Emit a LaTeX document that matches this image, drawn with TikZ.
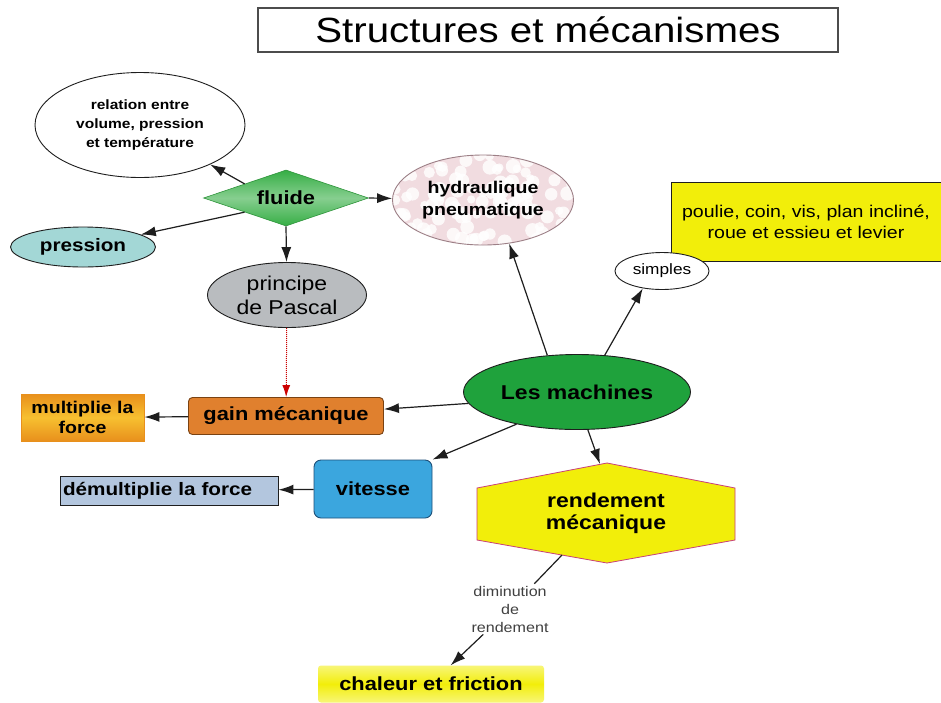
\documentclass[tikz,border=0pt]{standalone}
\usepackage{fontspec}
\setmainfont[FakeStretch=1.15]{Liberation Sans}
\usepackage{tikz}
\usetikzlibrary{arrows.meta, positioning, calc, shapes.geometric}
\definecolor{vertfluide}{HTML}{36AE45}
\definecolor{vertmachine}{HTML}{1FA23C}
\definecolor{bleupression}{HTML}{A3D7D6}
\definecolor{grispascal}{HTML}{B9BCBF}
\definecolor{roseclair}{HTML}{F1DCE0}
\definecolor{rosebord}{HTML}{9C7F86}
\definecolor{jaunevif}{HTML}{F2EE0A}
\definecolor{orangegain}{HTML}{E0802E}
\definecolor{orangebord}{HTML}{7A4212}
\definecolor{orangeforce}{HTML}{E8901C}
\definecolor{orangeclair}{HTML}{F7C030}
\definecolor{bleuvitesse}{HTML}{3BA6DE}
\definecolor{bleubord}{HTML}{1D4F78}
\definecolor{bleugris}{HTML}{B3C6DE}
\definecolor{magentabord}{HTML}{C8407A}
\definecolor{encre}{HTML}{1E1E1E}

\begin{document}
\begin{tikzpicture}[x=1pt, y=-1pt,
  fleche/.style={-{Latex[length=15pt,width=10pt]}, line width=1.2pt, draw=encre},
  bulle/.style={ellipse, draw=encre, line width=0.9pt, inner sep=0pt, align=center},
  boite/.style={rectangle, draw=encre, line width=0.9pt, inner sep=0pt, align=center}]
  % page in pixels of the reference: (0,0) top left, y going down
  \useasboundingbox (0,0) rectangle (941,702);
  \fill[white] (0,0) rectangle (941,702);
  \pgfmathsetseed{7}

  \node[draw=black!70, line width=1.3pt, minimum width=580pt, minimum height=44pt, inner sep=0pt,
        font=\fontsize{35}{38}\selectfont] (titre) at (548,30) {Structures et mécanismes};

  % left part: fluids
  \node[bulle, fill=white, minimum width=210pt, minimum height=105pt,
        font=\bfseries\fontsize{13.5}{19}\selectfont] (relation) at (140,125) {relation entre\\volume, pression\\et température};
  \node[diamond, aspect=3, draw=vertfluide!85!black, line width=0.6pt, top color=vertfluide, bottom color=vertfluide,
        middle color=vertfluide!60!white, minimum width=165pt, minimum height=56pt, inner sep=0pt,
        font=\bfseries\fontsize{19}{22}\selectfont] (fluide) at (286,198) {fluide};
  \node[bulle, fill=bleupression, minimum width=145pt, minimum height=40pt,
        font=\bfseries\fontsize{18}{20}\selectfont] (pression) at (83,247) {pression};
  \node[bulle, fill=grispascal, minimum width=159pt, minimum height=65pt,
        font=\fontsize{20}{24}\selectfont] (pascal) at (287,295) {principe\\de Pascal};
  \node[bulle, draw=rosebord, fill=roseclair, minimum width=181pt, minimum height=90pt,
        font=\bfseries\fontsize{17}{22}\selectfont,
        path picture={\foreach \k in {1,...,140}{
          \pgfmathsetmacro{\dx}{95*rand}\pgfmathsetmacro{\dy}{50*rand}\pgfmathsetmacro{\ray}{4+3.5*rnd}
          \fill[white, opacity=.8] ([xshift=\dx pt, yshift=\dy pt]path picture bounding box.center) circle (\ray pt);}}]
        (hydro) at (483,200) {hydraulique\\pneumatique};

  % right part
  \node[boite, fill=jaunevif, minimum width=270pt, minimum height=79pt,
        font=\fontsize{17}{21}\selectfont] (poulie) at (806,222) {poulie, coin, vis, plan incliné,\\roue et essieu et levier};
  \node[bulle, fill=white, minimum width=94pt, minimum height=37pt,
        font=\fontsize{15}{18}\selectfont] (simples) at (662,271) {simples};
  \node[bulle, fill=vertmachine, minimum width=227pt, minimum height=75pt,
        font=\bfseries\fontsize{20}{24}\selectfont] (machines) at (577,392) {Les machines};

  \node[boite, rounded corners=4pt, draw=orangebord, fill=orangegain, minimum width=195pt, minimum height=37pt,
        font=\bfseries\fontsize{19}{22}\selectfont] (gain) at (286,416) {gain mécanique};
  \node[boite, draw=orangeforce, top color=orangeforce, bottom color=orangeforce, middle color=orangeclair,
        minimum width=123pt, minimum height=47pt,
        font=\bfseries\fontsize{17}{20}\selectfont] (multi) at (82.5,417.5) {multiplie la\\force};
  \node[boite, rounded corners=7pt, draw=bleubord, fill=bleuvitesse, minimum width=118pt, minimum height=58pt,
        font=\bfseries\fontsize{19}{22}\selectfont] (vitesse) at (373,489) {vitesse};
  \node[boite, fill=bleugris, minimum width=218pt, minimum height=29pt, text width=212pt, align=left,
        font=\bfseries\fontsize{18}{20}\selectfont] (demulti) at (169,490.5) {démultiplie la force};

  \fill[jaunevif, draw=magentabord, line width=0.8pt]
    (607,463) -- (735,488) -- (735,540) -- (607,563) -- (477,540) -- (477,488) -- cycle;
  \node[align=center, font=\bfseries\fontsize{20}{22}\selectfont] (rend) at (606,513) {rendement\\mécanique};
  \coordinate (rendhaut) at (600,464);
  \coordinate (rendbas) at (562,555);

  \node[align=center, inner sep=2pt, text=encre!85, font=\fontsize{14}{18}\selectfont] (dim) at (510,609) {diminution\\de\\rendement};
  \node[rectangle, rounded corners=3pt, top color=jaunevif!55!white, bottom color=jaunevif!55!white,
        middle color=jaunevif, minimum width=226pt, minimum height=37pt,
        font=\bfseries\fontsize{19}{22}\selectfont] (chaleur) at (431,684) {chaleur et friction};

  % connectors
  \draw[fleche] (fluide.north west) -- (relation);
  \draw[fleche] (fluide.south west) -- (pression);
  \draw[fleche] (fluide.east) -- (hydro);
  \draw[fleche] (fluide.south) -- (pascal);
  \draw[densely dotted, line width=1pt, draw=red!80!black, -{Latex[length=12pt,width=8pt]}] (pascal) -- (gain);
  \draw[fleche] (machines.129) -- (hydro.-59);
  \draw[fleche] (machines.53) -- (simples.222);
  \draw[fleche] (machines.186) -- (gain.4);
  \draw[fleche] (gain) -- (multi);
  \draw[fleche] (machines.208) -- (vitesse.north east);
  \draw[fleche] (vitesse) -- (demulti);
  \draw[fleche] (machines.-74) -- (rendhaut);
  \draw[line width=1.2pt, draw=encre] (rendbas) -- (dim);
  \draw[fleche] (dim) -- (chaleur);
\end{tikzpicture}
\end{document}
